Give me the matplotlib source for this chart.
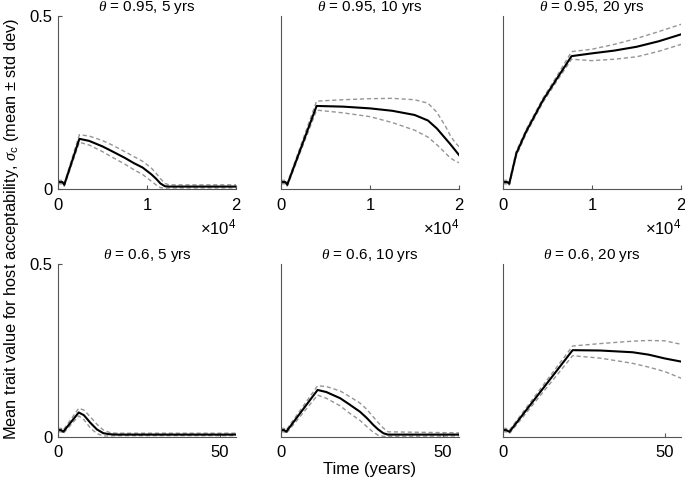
import matplotlib.pyplot as plt

plt.rcParams['font.family'] = ['Liberation Sans', 'DejaVu Sans']
plt.rcParams['mathtext.fontset'] = 'custom'
plt.rcParams['mathtext.rm'] = 'Liberation Sans'
plt.rcParams['mathtext.it'] = 'Liberation Serif:italic'
plt.rcParams['font.size'] = 11

# top row: time in generations (x 1e4)
t1 = [0, 500, 700, 2400, 3500, 5000, 6000, 7500, 8500, 9500, 10500, 11000, 11500, 12000, 12500, 20000]
mean1 = [0.02, 0.02, 0.012, 0.145, 0.139, 0.123, 0.110, 0.090, 0.075, 0.062, 0.042, 0.030, 0.016, 0.008, 0.007, 0.007]
upper1 = [0.025, 0.025, 0.016, 0.157, 0.153, 0.140, 0.128, 0.108, 0.094, 0.080, 0.060, 0.046, 0.030, 0.016, 0.012, 0.012]
lower1 = [0.015, 0.015, 0.008, 0.135, 0.127, 0.108, 0.093, 0.072, 0.056, 0.042, 0.022, 0.012, 0.004, 0.002, 0.003, 0.003]

t2 = [0, 500, 700, 4000, 7000, 10000, 12500, 15000, 16500, 17500, 18500, 19000, 19500, 20000]
mean2 = [0.02, 0.02, 0.012, 0.240, 0.238, 0.233, 0.226, 0.214, 0.198, 0.175, 0.145, 0.130, 0.114, 0.098]
upper2 = [0.025, 0.025, 0.016, 0.254, 0.258, 0.261, 0.262, 0.258, 0.248, 0.222, 0.180, 0.155, 0.136, 0.122]
lower2 = [0.015, 0.015, 0.008, 0.228, 0.220, 0.209, 0.192, 0.170, 0.150, 0.128, 0.103, 0.090, 0.082, 0.076]

t3 = [0, 500, 700, 1500, 2600, 4500, 6000, 7700, 10000, 12500, 15000, 17500, 20000]
mean3 = [0.02, 0.02, 0.015, 0.103, 0.166, 0.257, 0.317, 0.384, 0.392, 0.400, 0.411, 0.427, 0.447]
upper3 = [0.025, 0.025, 0.020, 0.110, 0.172, 0.263, 0.324, 0.397, 0.404, 0.418, 0.435, 0.455, 0.476]
lower3 = [0.015, 0.015, 0.010, 0.096, 0.160, 0.251, 0.310, 0.375, 0.371, 0.375, 0.382, 0.398, 0.418]

# bottom row: time in years
t4 = [0, 1, 1.6, 6.4, 8, 10, 12, 14, 16, 18, 55]
mean4 = [0.02, 0.02, 0.015, 0.071, 0.063, 0.041, 0.022, 0.011, 0.008, 0.007, 0.007]
upper4 = [0.025, 0.025, 0.020, 0.083, 0.078, 0.058, 0.037, 0.020, 0.013, 0.011, 0.011]
lower4 = [0.015, 0.015, 0.010, 0.061, 0.050, 0.026, 0.010, 0.003, 0.003, 0.004, 0.004]

t5 = [0, 1, 1.6, 11.3, 14, 18.3, 21, 24.4, 26.5, 28.5, 30, 31.6, 33, 55]
mean5 = [0.02, 0.02, 0.015, 0.136, 0.130, 0.112, 0.095, 0.073, 0.055, 0.035, 0.022, 0.011, 0.007, 0.007]
upper5 = [0.025, 0.025, 0.020, 0.148, 0.146, 0.133, 0.118, 0.098, 0.080, 0.058, 0.042, 0.026, 0.015, 0.012]
lower5 = [0.015, 0.015, 0.010, 0.121, 0.112, 0.090, 0.070, 0.048, 0.030, 0.014, 0.005, 0.002, 0.002, 0.003]

t6 = [0, 1, 2, 21.5, 30, 40, 45, 50, 55]
mean6 = [0.02, 0.02, 0.015, 0.251, 0.250, 0.245, 0.238, 0.227, 0.218]
upper6 = [0.025, 0.025, 0.020, 0.263, 0.270, 0.277, 0.279, 0.278, 0.268]
lower6 = [0.015, 0.015, 0.010, 0.235, 0.228, 0.213, 0.202, 0.189, 0.170]

titles = [r'$\theta$ = 0.95, 5 yrs', r'$\theta$ = 0.95, 10 yrs', r'$\theta$ = 0.95, 20 yrs',
          r'$\theta$ = 0.6, 5 yrs', r'$\theta$ = 0.6, 10 yrs', r'$\theta$ = 0.6, 20 yrs']
panels = [(t1, mean1, upper1, lower1), (t2, mean2, upper2, lower2), (t3, mean3, upper3, lower3),
          (t4, mean4, upper4, lower4), (t5, mean5, upper5, lower5), (t6, mean6, upper6, lower6)]

fig = plt.figure(figsize=(6.85, 4.83), dpi=100)
lefts = [0.0847, 0.4102, 0.7343]
bottoms = [0.6087, 0.0952]
w, h = 0.26, 0.3582

for i, (t, m, up, lo) in enumerate(panels):
    row, col = divmod(i, 3)
    ax = fig.add_axes([lefts[col], bottoms[row], w, h])
    ax.plot(t, up, color='#959595', lw=1, dashes=(3, 2))
    ax.plot(t, lo, color='#959595', lw=1, dashes=(3, 2))
    ax.plot(t, m, '-', color='black', lw=1.5)
    ax.set_ylim(0, 0.5)
    for s in ['top', 'right']:
        ax.spines[s].set_visible(False)
    for s in ['left', 'bottom']:
        ax.spines[s].set_color('#555555')
    ax.set_title(titles[i], fontsize=11, pad=3)
    if row == 0:
        ax.set_xlim(0, 20000)
        ax.set_xticks([0, 10000, 20000])
        ax.ticklabel_format(axis='x', style='sci', scilimits=(0, 0), useMathText=True)
        ax.xaxis.get_offset_text().set_fontsize(12)
    else:
        ax.set_xlim(0, 55)
        ax.set_xticks([0, 50])
    ax.tick_params(axis='x', direction='in', length=3, pad=6, color='#555555', labelsize=12)
    if col == 0:
        ax.set_yticks([0, 0.5])
        ax.set_yticklabels(['0', '0.5'])
        ax.tick_params(axis='y', direction='in', length=3, pad=4, color='#555555', labelsize=12)
    else:
        ax.set_yticks([])
    if row == 1 and col == 1:
        ax.set_xlabel('Time (years)', fontsize=12, labelpad=1)

fig.text(0.017, 0.526, r'Mean trait value for host acceptability, $\sigma_{\rm c}$ (mean $\pm$ std dev)',
         rotation=90, va='center', ha='center', fontsize=11.8)

fig.savefig('out.png', dpi=100)
